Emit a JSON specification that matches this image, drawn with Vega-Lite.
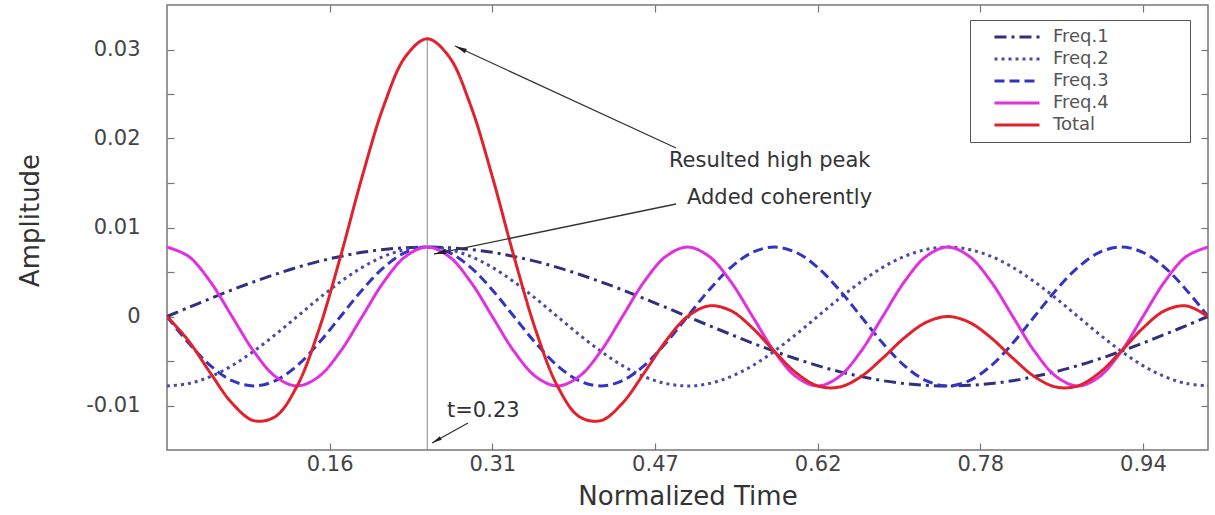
{
  "$schema": "https://vega.github.io/schema/vega-lite/v6.json",
  "width": 1041,
  "height": 445,
  "autosize": "none",
  "padding": {"left": 167, "top": 5, "right": 7, "bottom": 65},
  "background": "white",
  "config": {
    "view": {"stroke": "#777", "strokeWidth": 1.5},
    "axis": {"labelFont": "DejaVu Sans", "labelFontSize": 21, "labelColor": "#444", "titleFont": "DejaVu Sans", "titleFontSize": 26, "titleFontWeight": "normal", "titleColor": "#333", "tickColor": "#777", "tickWidth": 1.2, "tickSize": -7, "domain": false, "grid": false, "labelOverlap": false},
    "text": {"font": "DejaVu Sans"}
  },
  "datasets": {
    "series": [
      {"t":0,"series":"Freq.1","v":0},{"t":0.0208,"series":"Freq.1","v":0.00102},{"t":0.0417,"series":"Freq.1","v":0.00202},{"t":0.0625,"series":"Freq.1","v":0.00299},{"t":0.0833,"series":"Freq.1","v":0.0039},{"t":0.1042,"series":"Freq.1","v":0.00475},{"t":0.125,"series":"Freq.1","v":0.00552},{"t":0.1458,"series":"Freq.1","v":0.00619},{"t":0.1667,"series":"Freq.1","v":0.00675},{"t":0.1875,"series":"Freq.1","v":0.00721},{"t":0.2083,"series":"Freq.1","v":0.00753},{"t":0.2292,"series":"Freq.1","v":0.00773},{"t":0.25,"series":"Freq.1","v":0.0078},{"t":0.2708,"series":"Freq.1","v":0.00773},{"t":0.2917,"series":"Freq.1","v":0.00753},{"t":0.3125,"series":"Freq.1","v":0.00721},{"t":0.3333,"series":"Freq.1","v":0.00675},{"t":0.3542,"series":"Freq.1","v":0.00619},{"t":0.375,"series":"Freq.1","v":0.00552},{"t":0.3958,"series":"Freq.1","v":0.00475},{"t":0.4167,"series":"Freq.1","v":0.0039},{"t":0.4375,"series":"Freq.1","v":0.00299},{"t":0.4583,"series":"Freq.1","v":0.00202},{"t":0.4792,"series":"Freq.1","v":0.00102},{"t":0.5,"series":"Freq.1","v":0},{"t":0.5208,"series":"Freq.1","v":-0.00102},{"t":0.5417,"series":"Freq.1","v":-0.00202},{"t":0.5625,"series":"Freq.1","v":-0.00299},{"t":0.5833,"series":"Freq.1","v":-0.0039},{"t":0.6042,"series":"Freq.1","v":-0.00475},{"t":0.625,"series":"Freq.1","v":-0.00552},{"t":0.6458,"series":"Freq.1","v":-0.00619},{"t":0.6667,"series":"Freq.1","v":-0.00675},{"t":0.6875,"series":"Freq.1","v":-0.00721},{"t":0.7083,"series":"Freq.1","v":-0.00753},{"t":0.7292,"series":"Freq.1","v":-0.00773},{"t":0.75,"series":"Freq.1","v":-0.0078},{"t":0.7708,"series":"Freq.1","v":-0.00773},{"t":0.7917,"series":"Freq.1","v":-0.00753},{"t":0.8125,"series":"Freq.1","v":-0.00721},{"t":0.8333,"series":"Freq.1","v":-0.00675},{"t":0.8542,"series":"Freq.1","v":-0.00619},{"t":0.875,"series":"Freq.1","v":-0.00552},{"t":0.8958,"series":"Freq.1","v":-0.00475},{"t":0.9167,"series":"Freq.1","v":-0.0039},{"t":0.9375,"series":"Freq.1","v":-0.00299},{"t":0.9583,"series":"Freq.1","v":-0.00202},{"t":0.9792,"series":"Freq.1","v":-0.00102},{"t":1,"series":"Freq.1","v":0},
      {"t":0,"series":"Freq.2","v":-0.0078},{"t":0.0208,"series":"Freq.2","v":-0.00753},{"t":0.0417,"series":"Freq.2","v":-0.00675},{"t":0.0625,"series":"Freq.2","v":-0.00552},{"t":0.0833,"series":"Freq.2","v":-0.0039},{"t":0.1042,"series":"Freq.2","v":-0.00202},{"t":0.125,"series":"Freq.2","v":0},{"t":0.1458,"series":"Freq.2","v":0.00202},{"t":0.1667,"series":"Freq.2","v":0.0039},{"t":0.1875,"series":"Freq.2","v":0.00552},{"t":0.2083,"series":"Freq.2","v":0.00675},{"t":0.2292,"series":"Freq.2","v":0.00753},{"t":0.25,"series":"Freq.2","v":0.0078},{"t":0.2708,"series":"Freq.2","v":0.00753},{"t":0.2917,"series":"Freq.2","v":0.00675},{"t":0.3125,"series":"Freq.2","v":0.00552},{"t":0.3333,"series":"Freq.2","v":0.0039},{"t":0.3542,"series":"Freq.2","v":0.00202},{"t":0.375,"series":"Freq.2","v":0},{"t":0.3958,"series":"Freq.2","v":-0.00202},{"t":0.4167,"series":"Freq.2","v":-0.0039},{"t":0.4375,"series":"Freq.2","v":-0.00552},{"t":0.4583,"series":"Freq.2","v":-0.00675},{"t":0.4792,"series":"Freq.2","v":-0.00753},{"t":0.5,"series":"Freq.2","v":-0.0078},{"t":0.5208,"series":"Freq.2","v":-0.00753},{"t":0.5417,"series":"Freq.2","v":-0.00675},{"t":0.5625,"series":"Freq.2","v":-0.00552},{"t":0.5833,"series":"Freq.2","v":-0.0039},{"t":0.6042,"series":"Freq.2","v":-0.00202},{"t":0.625,"series":"Freq.2","v":0},{"t":0.6458,"series":"Freq.2","v":0.00202},{"t":0.6667,"series":"Freq.2","v":0.0039},{"t":0.6875,"series":"Freq.2","v":0.00552},{"t":0.7083,"series":"Freq.2","v":0.00675},{"t":0.7292,"series":"Freq.2","v":0.00753},{"t":0.75,"series":"Freq.2","v":0.0078},{"t":0.7708,"series":"Freq.2","v":0.00753},{"t":0.7917,"series":"Freq.2","v":0.00675},{"t":0.8125,"series":"Freq.2","v":0.00552},{"t":0.8333,"series":"Freq.2","v":0.0039},{"t":0.8542,"series":"Freq.2","v":0.00202},{"t":0.875,"series":"Freq.2","v":0},{"t":0.8958,"series":"Freq.2","v":-0.00202},{"t":0.9167,"series":"Freq.2","v":-0.0039},{"t":0.9375,"series":"Freq.2","v":-0.00552},{"t":0.9583,"series":"Freq.2","v":-0.00675},{"t":0.9792,"series":"Freq.2","v":-0.00753},{"t":1,"series":"Freq.2","v":-0.0078},
      {"t":0,"series":"Freq.3","v":0},{"t":0.0208,"series":"Freq.3","v":-0.00299},{"t":0.0417,"series":"Freq.3","v":-0.00552},{"t":0.0625,"series":"Freq.3","v":-0.00721},{"t":0.0833,"series":"Freq.3","v":-0.0078},{"t":0.1042,"series":"Freq.3","v":-0.00721},{"t":0.125,"series":"Freq.3","v":-0.00552},{"t":0.1458,"series":"Freq.3","v":-0.00299},{"t":0.1667,"series":"Freq.3","v":0},{"t":0.1875,"series":"Freq.3","v":0.00299},{"t":0.2083,"series":"Freq.3","v":0.00552},{"t":0.2292,"series":"Freq.3","v":0.00721},{"t":0.25,"series":"Freq.3","v":0.0078},{"t":0.2708,"series":"Freq.3","v":0.00721},{"t":0.2917,"series":"Freq.3","v":0.00552},{"t":0.3125,"series":"Freq.3","v":0.00299},{"t":0.3333,"series":"Freq.3","v":0},{"t":0.3542,"series":"Freq.3","v":-0.00299},{"t":0.375,"series":"Freq.3","v":-0.00552},{"t":0.3958,"series":"Freq.3","v":-0.00721},{"t":0.4167,"series":"Freq.3","v":-0.0078},{"t":0.4375,"series":"Freq.3","v":-0.00721},{"t":0.4583,"series":"Freq.3","v":-0.00552},{"t":0.4792,"series":"Freq.3","v":-0.00299},{"t":0.5,"series":"Freq.3","v":0},{"t":0.5208,"series":"Freq.3","v":0.00299},{"t":0.5417,"series":"Freq.3","v":0.00552},{"t":0.5625,"series":"Freq.3","v":0.00721},{"t":0.5833,"series":"Freq.3","v":0.0078},{"t":0.6042,"series":"Freq.3","v":0.00721},{"t":0.625,"series":"Freq.3","v":0.00552},{"t":0.6458,"series":"Freq.3","v":0.00299},{"t":0.6667,"series":"Freq.3","v":0},{"t":0.6875,"series":"Freq.3","v":-0.00299},{"t":0.7083,"series":"Freq.3","v":-0.00552},{"t":0.7292,"series":"Freq.3","v":-0.00721},{"t":0.75,"series":"Freq.3","v":-0.0078},{"t":0.7708,"series":"Freq.3","v":-0.00721},{"t":0.7917,"series":"Freq.3","v":-0.00552},{"t":0.8125,"series":"Freq.3","v":-0.00299},{"t":0.8333,"series":"Freq.3","v":0},{"t":0.8542,"series":"Freq.3","v":0.00299},{"t":0.875,"series":"Freq.3","v":0.00552},{"t":0.8958,"series":"Freq.3","v":0.00721},{"t":0.9167,"series":"Freq.3","v":0.0078},{"t":0.9375,"series":"Freq.3","v":0.00721},{"t":0.9583,"series":"Freq.3","v":0.00552},{"t":0.9792,"series":"Freq.3","v":0.00299},{"t":1,"series":"Freq.3","v":0},
      {"t":0,"series":"Freq.4","v":0.0078},{"t":0.0208,"series":"Freq.4","v":0.00675},{"t":0.0417,"series":"Freq.4","v":0.0039},{"t":0.0625,"series":"Freq.4","v":0},{"t":0.0833,"series":"Freq.4","v":-0.0039},{"t":0.1042,"series":"Freq.4","v":-0.00675},{"t":0.125,"series":"Freq.4","v":-0.0078},{"t":0.1458,"series":"Freq.4","v":-0.00675},{"t":0.1667,"series":"Freq.4","v":-0.0039},{"t":0.1875,"series":"Freq.4","v":0},{"t":0.2083,"series":"Freq.4","v":0.0039},{"t":0.2292,"series":"Freq.4","v":0.00675},{"t":0.25,"series":"Freq.4","v":0.0078},{"t":0.2708,"series":"Freq.4","v":0.00675},{"t":0.2917,"series":"Freq.4","v":0.0039},{"t":0.3125,"series":"Freq.4","v":0},{"t":0.3333,"series":"Freq.4","v":-0.0039},{"t":0.3542,"series":"Freq.4","v":-0.00675},{"t":0.375,"series":"Freq.4","v":-0.0078},{"t":0.3958,"series":"Freq.4","v":-0.00675},{"t":0.4167,"series":"Freq.4","v":-0.0039},{"t":0.4375,"series":"Freq.4","v":0},{"t":0.4583,"series":"Freq.4","v":0.0039},{"t":0.4792,"series":"Freq.4","v":0.00675},{"t":0.5,"series":"Freq.4","v":0.0078},{"t":0.5208,"series":"Freq.4","v":0.00675},{"t":0.5417,"series":"Freq.4","v":0.0039},{"t":0.5625,"series":"Freq.4","v":0},{"t":0.5833,"series":"Freq.4","v":-0.0039},{"t":0.6042,"series":"Freq.4","v":-0.00675},{"t":0.625,"series":"Freq.4","v":-0.0078},{"t":0.6458,"series":"Freq.4","v":-0.00675},{"t":0.6667,"series":"Freq.4","v":-0.0039},{"t":0.6875,"series":"Freq.4","v":0},{"t":0.7083,"series":"Freq.4","v":0.0039},{"t":0.7292,"series":"Freq.4","v":0.00675},{"t":0.75,"series":"Freq.4","v":0.0078},{"t":0.7708,"series":"Freq.4","v":0.00675},{"t":0.7917,"series":"Freq.4","v":0.0039},{"t":0.8125,"series":"Freq.4","v":0},{"t":0.8333,"series":"Freq.4","v":-0.0039},{"t":0.8542,"series":"Freq.4","v":-0.00675},{"t":0.875,"series":"Freq.4","v":-0.0078},{"t":0.8958,"series":"Freq.4","v":-0.00675},{"t":0.9167,"series":"Freq.4","v":-0.0039},{"t":0.9375,"series":"Freq.4","v":0},{"t":0.9583,"series":"Freq.4","v":0.0039},{"t":0.9792,"series":"Freq.4","v":0.00675},{"t":1,"series":"Freq.4","v":0.0078},
      {"t":0,"series":"Total","v":0},{"t":0.0208,"series":"Total","v":-0.00275},{"t":0.0417,"series":"Total","v":-0.00635},{"t":0.0625,"series":"Total","v":-0.00974},{"t":0.0833,"series":"Total","v":-0.0117},{"t":0.1042,"series":"Total","v":-0.01123},{"t":0.125,"series":"Total","v":-0.0078},{"t":0.1458,"series":"Total","v":-0.00153},{"t":0.1667,"series":"Total","v":0.00675},{"t":0.1875,"series":"Total","v":0.01572},{"t":0.2083,"series":"Total","v":0.0237},{"t":0.2292,"series":"Total","v":0.02922},{"t":0.25,"series":"Total","v":0.0312},{"t":0.2708,"series":"Total","v":0.02922},{"t":0.2917,"series":"Total","v":0.0237},{"t":0.3125,"series":"Total","v":0.01572},{"t":0.3333,"series":"Total","v":0.00675},{"t":0.3542,"series":"Total","v":-0.00153},{"t":0.375,"series":"Total","v":-0.0078},{"t":0.3958,"series":"Total","v":-0.01123},{"t":0.4167,"series":"Total","v":-0.0117},{"t":0.4375,"series":"Total","v":-0.00974},{"t":0.4583,"series":"Total","v":-0.00635},{"t":0.4792,"series":"Total","v":-0.00275},{"t":0.5,"series":"Total","v":0},{"t":0.5208,"series":"Total","v":0.00119},{"t":0.5417,"series":"Total","v":0.00065},{"t":0.5625,"series":"Total","v":-0.0013},{"t":0.5833,"series":"Total","v":-0.0039},{"t":0.6042,"series":"Total","v":-0.00631},{"t":0.625,"series":"Total","v":-0.0078},{"t":0.6458,"series":"Total","v":-0.00793},{"t":0.6667,"series":"Total","v":-0.00675},{"t":0.6875,"series":"Total","v":-0.00468},{"t":0.7083,"series":"Total","v":-0.0024},{"t":0.7292,"series":"Total","v":-0.00066},{"t":0.75,"series":"Total","v":0},{"t":0.7708,"series":"Total","v":-0.00066},{"t":0.7917,"series":"Total","v":-0.0024},{"t":0.8125,"series":"Total","v":-0.00468},{"t":0.8333,"series":"Total","v":-0.00675},{"t":0.8542,"series":"Total","v":-0.00793},{"t":0.875,"series":"Total","v":-0.0078},{"t":0.8958,"series":"Total","v":-0.00631},{"t":0.9167,"series":"Total","v":-0.0039},{"t":0.9375,"series":"Total","v":-0.0013},{"t":0.9583,"series":"Total","v":0.00065},{"t":0.9792,"series":"Total","v":0.00119},{"t":1,"series":"Total","v":0}
    ],
    "peak": [{"t": 0.25, "v": 0.0312, "v2": -0.015}],
    "arrows": [
      {"id": 1, "t": 0.489, "v": 0.01893, "t2": 0.2767, "v2": 0.03039},
      {"id": 2, "t": 0.489, "v": 0.01264, "t2": 0.2565, "v2": 0.00702},
      {"id": 3, "t": 0.2891, "v": -0.01197, "t2": 0.2546, "v2": -0.01421}
    ],
    "notes": [
      {"label": "Resulted high peak", "t": 0.4822, "v": 0.01747},
      {"label": "Added coherently", "t": 0.4995, "v": 0.01331},
      {"label": "t=0.23", "t": 0.269, "v": -0.01062}
    ]
  },
  "resolve": {"axis": {"x": "independent", "y": "independent"}},
  "layer": [
    {
      "data": {"name": "peak"},
      "mark": {"type": "rule", "color": "#888", "strokeWidth": 1},
      "encoding": {
        "x": {"field": "t", "type": "quantitative", "scale": {"domain": [0, 1], "nice": false, "zero": false},
              "axis": {"orient": "top", "labels": false, "title": null, "values": [0.15625, 0.3125, 0.46875, 0.625, 0.78125, 0.9375]}},
        "y": {"field": "v", "type": "quantitative", "scale": {"domain": [-0.015, 0.035], "nice": false, "zero": false},
              "axis": {"orient": "right", "labels": false, "title": null, "values": [-0.01, -0.005, 0, 0.005, 0.01, 0.015, 0.02, 0.025, 0.03]}},
        "y2": {"field": "v2"}
      }
    },
    {
      "data": {"name": "series"},
      "mark": {"type": "line", "interpolate": "catmull-rom", "clip": true},
      "encoding": {
        "x": {"field": "t", "type": "quantitative", "scale": {"domain": [0, 1], "nice": false, "zero": false},
              "axis": {"orient": "bottom", "title": "Normalized Time", "values": [0.15625, 0.3125, 0.46875, 0.625, 0.78125, 0.9375],
                       "labelExpr": "datum.value == 0.625 ? '0.62' : format(datum.value, '.2f')", "labelPadding": 10,
                       "titleY": 46, "titleBaseline": "middle"}},
        "y": {"field": "v", "type": "quantitative", "scale": {"domain": [-0.015, 0.035], "nice": false, "zero": false},
              "axis": {"orient": "left", "title": "Amplitude", "values": [-0.01, -0.005, 0, 0.005, 0.01, 0.015, 0.02, 0.025, 0.03],
                       "labelExpr": "abs(datum.value - 0.03) < 1e-6 ? '0.03' : abs(datum.value - 0.02) < 1e-6 ? '0.02' : abs(datum.value - 0.01) < 1e-6 ? '0.01' : abs(datum.value) < 1e-6 ? '0' : abs(datum.value + 0.01) < 1e-6 ? '-0.01' : ''",
                       "labelPadding": 34, "labelBaseline": "middle", "titleX": -137, "titleY": 215, "titleBaseline": "middle"}},
        "color": {"field": "series", "type": "nominal",
                  "scale": {"domain": ["Freq.1", "Freq.2", "Freq.3", "Freq.4", "Total"], "range": ["#30307f", "#4a4aa8", "#3434c4", "#e030e0", "#e0222c"]},
                  "legend": {"orient": "none", "legendX": 803, "legendY": 15, "direction": "vertical", "title": null,
                             "strokeColor": "#555", "fillColor": "white", "padding": 6, "symbolType": "stroke", "symbolSize": 2025,
                             "symbolOffset": 17, "labelFont": "DejaVu Sans", "labelFontSize": 18, "labelColor": "#555", "labelOffset": 12,
                             "clipHeight": 22, "rowPadding": 0,
                             "labelExpr": "datum.label + '\u00a0\u00a0\u00a0\u00a0\u00a0\u00a0\u00a0\u00a0\u00a0\u00a0\u00a0\u00a0\u00a0\u200b'"}},
        "strokeDash": {"field": "series", "type": "nominal",
                       "scale": {"domain": ["Freq.1", "Freq.2", "Freq.3", "Freq.4", "Total"], "range": [[12, 5, 3, 5], [3, 4], [10, 5], [1, 0], [1, 0]]}},
        "strokeWidth": {"field": "series", "type": "nominal",
                        "scale": {"domain": ["Freq.1", "Freq.2", "Freq.3", "Freq.4", "Total"], "range": [3, 3, 3.5, 3, 4]}}
      }
    },
    {
      "data": {"name": "arrows"},
      "mark": {"type": "rule", "color": "#333", "strokeWidth": 1.3},
      "encoding": {
        "x": {"field": "t", "type": "quantitative", "scale": {"domain": [0, 1], "nice": false, "zero": false}, "axis": null},
        "y": {"field": "v", "type": "quantitative", "scale": {"domain": [-0.015, 0.035], "nice": false, "zero": false}, "axis": null},
        "x2": {"field": "t2"},
        "y2": {"field": "v2"}
      }
    },
    {
      "data": {"name": "arrows"},
      "transform": [{"filter": "datum.id == 1"}],
      "mark": {"type": "point", "shape": "M0,0L0.4,2L-0.4,2Z", "filled": true, "color": "#222", "opacity": 1, "size": 144, "angle": 294.8},
      "encoding": {
        "x": {"field": "t2", "type": "quantitative", "scale": {"domain": [0, 1], "nice": false, "zero": false}, "axis": null},
        "y": {"field": "v2", "type": "quantitative", "scale": {"domain": [-0.015, 0.035], "nice": false, "zero": false}, "axis": null}
      }
    },
    {
      "data": {"name": "arrows"},
      "transform": [{"filter": "datum.id == 2"}],
      "mark": {"type": "point", "shape": "M0,0L0.4,2L-0.4,2Z", "filled": true, "color": "#222", "opacity": 1, "size": 144, "angle": 258.3},
      "encoding": {
        "x": {"field": "t2", "type": "quantitative", "scale": {"domain": [0, 1], "nice": false, "zero": false}, "axis": null},
        "y": {"field": "v2", "type": "quantitative", "scale": {"domain": [-0.015, 0.035], "nice": false, "zero": false}, "axis": null}
      }
    },
    {
      "data": {"name": "arrows"},
      "transform": [{"filter": "datum.id == 3"}],
      "mark": {"type": "point", "shape": "M0,0L0.4,2L-0.4,2Z", "filled": true, "color": "#222", "opacity": 1, "size": 100, "angle": 240.9},
      "encoding": {
        "x": {"field": "t2", "type": "quantitative", "scale": {"domain": [0, 1], "nice": false, "zero": false}, "axis": null},
        "y": {"field": "v2", "type": "quantitative", "scale": {"domain": [-0.015, 0.035], "nice": false, "zero": false}, "axis": null}
      }
    },
    {
      "data": {"name": "notes"},
      "mark": {"type": "text", "align": "left", "baseline": "middle", "fontSize": 21, "color": "#333"},
      "encoding": {
        "x": {"field": "t", "type": "quantitative", "scale": {"domain": [0, 1], "nice": false, "zero": false}, "axis": null},
        "y": {"field": "v", "type": "quantitative", "scale": {"domain": [-0.015, 0.035], "nice": false, "zero": false}, "axis": null},
        "text": {"field": "label"}
      }
    }
  ]
}
